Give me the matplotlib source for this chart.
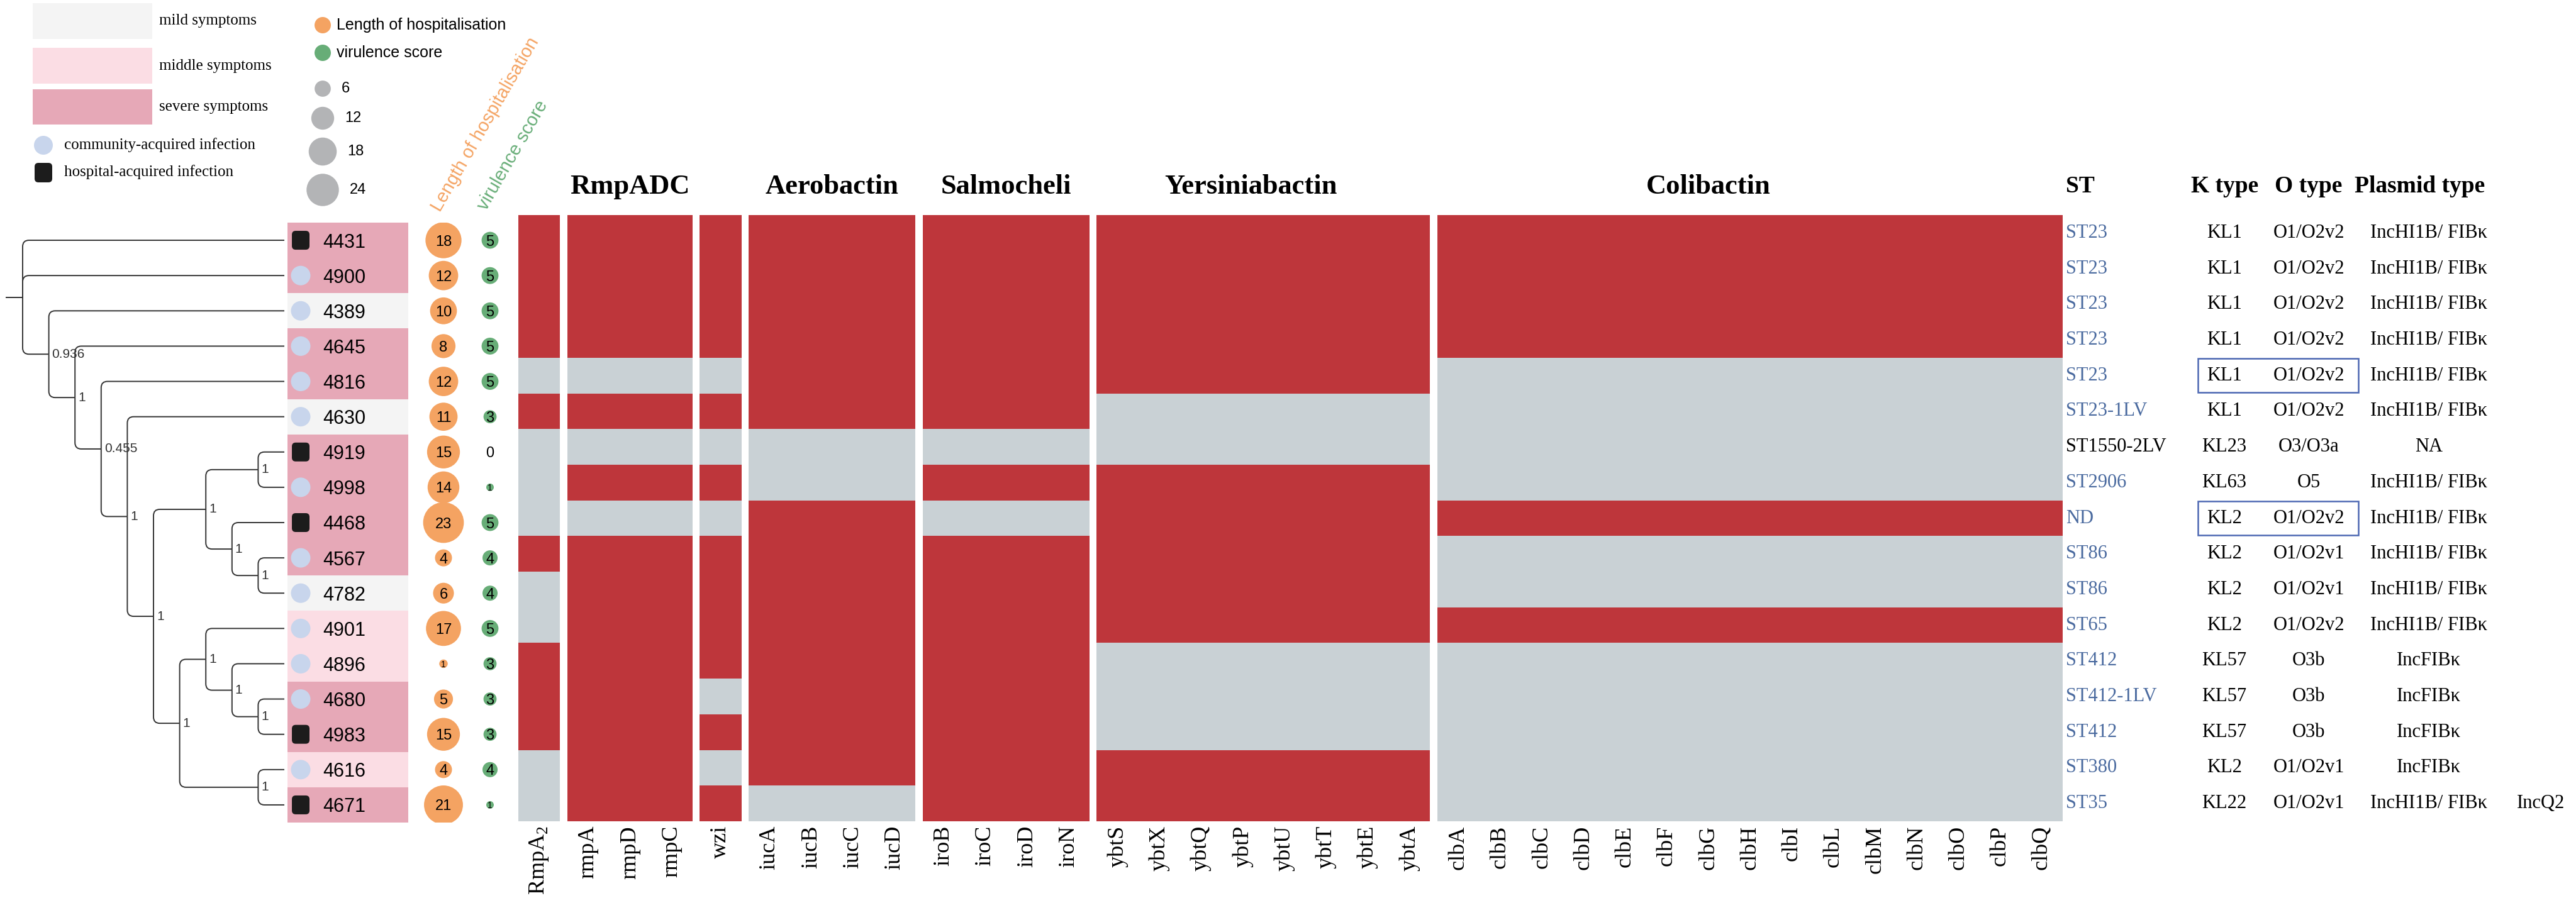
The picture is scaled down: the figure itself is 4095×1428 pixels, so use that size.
import numpy as np
import matplotlib.pyplot as plt
from matplotlib.colors import ListedColormap
from matplotlib.patches import Rectangle, FancyBboxPatch, PathPatch
from matplotlib.path import Path

W, H, DPI = 4095, 1428, 100
SERIF = 'Liberation Serif'
SANS = 'Liberation Sans'
plt.rcParams['mathtext.fontset'] = 'custom'
plt.rcParams['mathtext.rm'] = SERIF

# isolates in tree order, top to bottom
isolates = ['4431', '4900', '4389', '4645', '4816', '4630', '4919', '4998', '4468',
            '4567', '4782', '4901', '4896', '4680', '4983', '4616', '4671']
symptoms = ['severe', 'severe', 'mild', 'severe', 'severe', 'mild', 'severe', 'severe', 'severe',
            'severe', 'mild', 'middle', 'middle', 'severe', 'severe', 'middle', 'severe']
infection = ['hospital', 'community', 'community', 'community', 'community', 'community',
             'hospital', 'community', 'hospital', 'community', 'community', 'community',
             'community', 'community', 'hospital', 'community', 'hospital']
hosp_days = [18, 12, 10, 8, 12, 11, 15, 14, 23, 4, 6, 17, 1, 5, 15, 4, 21]
vir_score = [5, 5, 5, 5, 5, 3, 0, 1, 5, 4, 4, 5, 3, 3, 3, 4, 1]

# cladogram: (support, children), leaves are isolate ids
tree = (None, ['4431', '4900',
        (0.936, ['4389',
         (1, ['4645',
          (0.455, ['4816',
           (1, ['4630',
            (1, [(1, [(1, ['4919', '4998']),
                      (1, ['4468', (1, ['4567', '4782'])])]),
                 (1, [(1, ['4901', (1, ['4896', (1, ['4680', '4983'])])]),
                      (1, ['4616', '4671'])])])])])])])])

# virulence genes (1 = present)
group_titles = ['', 'RmpADC', '', 'Aerobactin', 'Salmocheli', 'Yersiniabactin', 'Colibactin']
group_genes = [['RmpA$_2$'], ['rmpA', 'rmpD', 'rmpC'], ['wzi'],
               ['iucA', 'iucB', 'iucC', 'iucD'], ['iroB', 'iroC', 'iroD', 'iroN'],
               ['ybtS', 'ybtX', 'ybtQ', 'ybtP', 'ybtU', 'ybtT', 'ybtE', 'ybtA'],
               ['clbA', 'clbB', 'clbC', 'clbD', 'clbE', 'clbF', 'clbG', 'clbH', 'clbI',
                'clbL', 'clbM', 'clbN', 'clbO', 'clbP', 'clbQ']]
rmpA2_pres = [1, 1, 1, 1, 0, 1, 0, 0, 0, 1, 0, 0, 1, 1, 1, 0, 0]
rmp_pres = [1, 1, 1, 1, 0, 1, 0, 1, 0, 1, 1, 1, 1, 1, 1, 1, 1]
wzi_pres = [1, 1, 1, 1, 0, 1, 0, 1, 0, 1, 1, 1, 1, 0, 1, 0, 1]
iuc_pres = [1, 1, 1, 1, 1, 1, 0, 0, 1, 1, 1, 1, 1, 1, 1, 1, 0]
iro_pres = [1, 1, 1, 1, 1, 1, 0, 1, 0, 1, 1, 1, 1, 1, 1, 1, 1]
ybt_pres = [1, 1, 1, 1, 1, 0, 0, 1, 1, 1, 1, 1, 0, 0, 0, 1, 1]
clb_pres = [1, 1, 1, 1, 0, 0, 0, 0, 1, 0, 0, 1, 0, 0, 0, 0, 0]
group_pres = [rmpA2_pres, rmp_pres, wzi_pres, iuc_pres, iro_pres, ybt_pres, clb_pres]

st_type = ['ST23', 'ST23', 'ST23', 'ST23', 'ST23', 'ST23-1LV', 'ST1550-2LV', 'ST2906', 'ND',
           'ST86', 'ST86', 'ST65', 'ST412', 'ST412-1LV', 'ST412', 'ST380', 'ST35']
k_type = ['KL1', 'KL1', 'KL1', 'KL1', 'KL1', 'KL1', 'KL23', 'KL63', 'KL2', 'KL2', 'KL2', 'KL2',
          'KL57', 'KL57', 'KL57', 'KL2', 'KL22']
o_type = ['O1/O2v2'] * 6 + ['O3/O3a', 'O5', 'O1/O2v2', 'O1/O2v1', 'O1/O2v1', 'O1/O2v2',
                            'O3b', 'O3b', 'O3b', 'O1/O2v1', 'O1/O2v1']
plasmid = ['IncHI1B/ FIBκ'] * 6 + ['NA'] + ['IncHI1B/ FIBκ'] * 5 + ['IncFIBκ'] * 4 + ['IncHI1B/ FIBκ']
plasmid_extra = [''] * 16 + ['IncQ2']
boxed_rows = ['4816', '4468']

sym_colors = {'mild': '#f4f4f4', 'middle': '#fbdde4', 'severe': '#e6a8b7'}
RED, GREY = '#be363b', '#c9d1d5'
ORANGE, GREEN = '#f4a362', '#67ad77'
ST_BLUE = '#4a6a9f'

fig = plt.figure(figsize=(W / DPI, H / DPI), dpi=DPI)


def px_axes(x0, y0, x1, y1):
    ax = fig.add_axes([x0 / W, 1 - y1 / H, (x1 - x0) / W, (y1 - y0) / H])
    ax.patch.set_alpha(0)
    return ax


def pt(px):
    return px * 72 / DPI


n_rows = len(isolates)
rows = np.arange(n_rows)

# ---------------- heatmap ----------------
axh = px_axes(824, 342, 3279, 1306)
cmap = ListedColormap([GREY, RED])
gap = 0.175
x0 = 0.0
ticks, tick_labels = [], []
title_shift = [0, 0, 0, 0, 0, -0.3, -1.0]
for title, genes, pres, sh in zip(group_titles, group_genes, group_pres, title_shift):
    n = len(genes)
    mat = np.repeat(np.array(pres)[:, None], n, axis=1)
    axh.pcolormesh(x0 + np.arange(n + 1), np.arange(n_rows + 1), mat, cmap=cmap,
                   vmin=0, vmax=1, shading='flat', linewidth=0)
    ticks += list(x0 + np.arange(n) + 0.5)
    tick_labels += genes
    if title:
        axh.text(x0 + n / 2 + sh, -0.8, title, ha='center', va='center', family=SERIF,
                 fontweight='bold', fontsize=32)
    x0 += n + gap
axh.set_xlim(0, x0 - gap)
axh.set_ylim(n_rows, 0)
axh.set_xticks(ticks)
axh.set_xticklabels(tick_labels, rotation=90, family=SERIF, fontsize=26)
axh.set_yticks([])
axh.tick_params(length=0, pad=5)
for s in axh.spines.values():
    s.set_visible(False)

# ---------------- right-side typing table ----------------
axr = px_axes(3279, 342, 4095, 1306)
axr.set_xlim(3279, 4095)
axr.set_ylim(n_rows, 0)
axr.set_axis_off()
hdr = dict(family=SERIF, fontweight='bold', fontsize=27, va='center')
axr.text(3284, -0.8, 'ST', ha='left', **hdr)
axr.text(3537, -0.8, 'K type', ha='center', **hdr)
axr.text(3670, -0.8, 'O type', ha='center', **hdr)
axr.text(3847, -0.8, 'Plasmid type', ha='center', **hdr)
cell = dict(family=SERIF, fontsize=22, va='center')
for r in rows:
    col = 'black' if st_type[r] == 'ST1550-2LV' else ST_BLUE
    axr.text(3284, r + 0.5, st_type[r], ha='left', color=col, **cell)
    axr.text(3536, r + 0.5, k_type[r], ha='center', **cell)
    axr.text(3670, r + 0.5, o_type[r], ha='center', **cell)
    axr.text(3861, r + 0.5, plasmid[r], ha='center', **cell)
    if plasmid_extra[r]:
        axr.text(4039, r + 0.5, plasmid_extra[r], ha='center', **cell)
for iso in boxed_rows:
    r = isolates.index(iso)
    axr.add_patch(Rectangle((3494, r + 0.02), 255, 0.96, fill=False, ec='#4d68b3', lw=1.8))

# ---------------- tree ----------------
PX_DEPTH = 41.6
PX_ROW = (1308 - 354) / n_rows
axt = px_axes(0, 354, 457, 1308)
axt.set_xlim(-36 / PX_DEPTH, (457 - 36) / PX_DEPTH)
axt.set_ylim(n_rows - 0.5, -0.5)
axt.set_axis_off()

tip_row = {iso: i for i, iso in enumerate(isolates)}
edges, node_labels = [], []


def place(node):
    if isinstance(node, str):
        return 10.0, float(tip_row[node])
    sup, kids = node
    pts = [place(k) for k in kids]
    x = min(p[0] for p in pts) - 1
    y = (min(p[1] for p in pts) + max(p[1] for p in pts)) / 2
    for p in pts:
        edges.append(((x, y), p))
    if sup is not None:
        node_labels.append((x, y, f'{sup:g}'))
    return x, y


root_x, root_y = place(tree)
rx, ry = 10 / PX_DEPTH, 10 / PX_ROW
for (px, py), (cx, cy) in edges:
    d = cy - py
    if abs(d) < 1e-9:
        verts = [(px, py), (cx, cy)]
        codes = [Path.MOVETO, Path.LINETO]
    else:
        s = np.sign(d)
        r_y = min(ry, abs(d))
        verts = [(px, py), (px, cy - s * r_y), (px, cy), (px + rx, cy), (cx, cy)]
        codes = [Path.MOVETO, Path.LINETO, Path.CURVE3, Path.CURVE3, Path.LINETO]
    axt.add_patch(PathPatch(Path(verts, codes), fill=False, ec='#333333', lw=1.4))
axt.plot([root_x - 0.63, root_x], [root_y, root_y], color='#333333', lw=1.4)
for x, y, lab in node_labels:
    axt.text(x + 0.12, y, lab, ha='left', va='center', family=SANS, fontsize=15, color='#333333')

# ---------------- isolate strip and circles ----------------
axm = px_axes(457, 354, 824, 1308)
axm.set_xlim(0, 367)
axm.set_ylim(n_rows - 0.5, -0.5)
axm.set_axis_off()
axm.barh(rows, 192, left=0, height=1.0, color=[sym_colors[s] for s in symptoms], linewidth=0)
asp = 1 / PX_ROW
for r in rows:
    if infection[r] == 'hospital':
        axm.add_patch(FancyBboxPatch((21 - 14, r - 15 * asp), 28, 30 * asp,
                                     boxstyle='round,pad=0,rounding_size=6',
                                     mutation_aspect=asp, fc='#1c1c1c', ec='none', zorder=3))
    else:
        axm.scatter(21, r, s=pt(31) ** 2, color='#c8d5ec', edgecolor='none', zorder=3)
    axm.text(56, r, isolates[r], ha='left', va='center_baseline', family=SANS, fontsize=22)

    v = hosp_days[r]
    if v > 0:
        axm.scatter(248, r, s=pt(13.5 * np.sqrt(v)) ** 2, color=ORANGE, edgecolor='none', zorder=3)
    axm.text(248, r, str(v), ha='center', va='center_baseline', family=SANS,
             fontsize=10 if v == 1 else 17, zorder=4)
    v = vir_score[r]
    if v > 0:
        axm.scatter(322, r, s=pt(12 * np.sqrt(v)) ** 2, color=GREEN, edgecolor='none', zorder=3)
    axm.text(322, r, str(v), ha='center', va='center_baseline', family=SANS,
             fontsize=10 if v == 1 else 17, zorder=4)

fig.text(700 / W, 1 - 338 / H, 'Length of hospitalisation', rotation=60, rotation_mode='anchor',
         ha='left', va='baseline', family=SANS, fontsize=21, color=ORANGE)
fig.text(773 / W, 1 - 336 / H, 'virulence score', rotation=60, rotation_mode='anchor',
         ha='left', va='baseline', family=SANS, fontsize=21, color=GREEN)

# ---------------- legend ----------------
axl = px_axes(0, 0, 900, 345)
axl.set_xlim(0, 900)
axl.set_ylim(345, 0)
axl.set_axis_off()
for (lab, key), (ya, yb) in zip([('mild symptoms', 'mild'), ('middle symptoms', 'middle'),
                                 ('severe symptoms', 'severe')],
                                [(5, 62), (76, 133), (142, 198)]):
    axl.add_patch(Rectangle((52, ya), 190, yb - ya, fc=sym_colors[key], ec='none'))
    axl.text(253, (ya + yb) / 2, lab, ha='left', va='center', family=SERIF, fontsize=18)
axl.scatter(69, 231, s=pt(30) ** 2, color='#c8d5ec', edgecolor='none')
axl.text(102, 231, 'community-acquired infection', ha='left', va='center', family=SERIF, fontsize=18)
axl.add_patch(FancyBboxPatch((55, 259), 28, 31, boxstyle='round,pad=0,rounding_size=6',
                             fc='#1c1c1c', ec='none'))
axl.text(102, 274, 'hospital-acquired infection', ha='left', va='center', family=SERIF, fontsize=18)

axl.scatter(513, 40, s=pt(26) ** 2, color=ORANGE, edgecolor='none')
axl.text(535, 40, 'Length of hospitalisation', ha='left', va='center', family=SANS, fontsize=18)
axl.scatter(513, 84, s=pt(26) ** 2, color=GREEN, edgecolor='none')
axl.text(535, 84, 'virulence score', ha='left', va='center', family=SANS, fontsize=18)
size_values = [6, 12, 18, 24]
for v, y in zip(size_values, [141, 188, 241, 302]):
    d = 10.5 * np.sqrt(v)
    axl.scatter(513, y, s=pt(d) ** 2, color='#b3b4b6', edgecolor='none')
    axl.text(513 + d / 2 + 17, y, str(v), ha='left', va='center', family=SANS, fontsize=17)

fig.savefig('out.png', dpi=DPI)
